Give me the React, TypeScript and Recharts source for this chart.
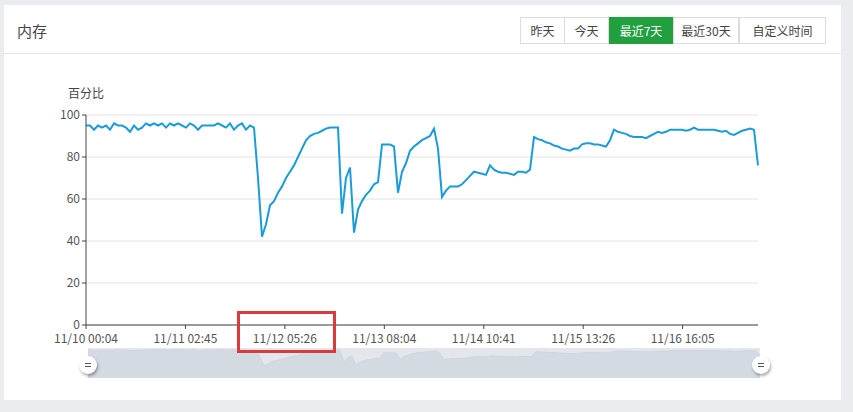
import React from 'react';
import { LineChart, Line, XAxis, YAxis, CartesianGrid, AreaChart, Area } from 'recharts';

// Memory usage (%) sampled evenly from 11/10 00:04 onward
const memoryPercent: number[] = [
  95, 95, 93, 95, 94, 95, 93, 96, 95, 95,
  94, 92, 95, 93, 94, 96, 95, 96, 95, 96,
  94, 96, 95, 96, 95, 94, 96, 95, 93, 95,
  95, 95, 95, 96, 95, 94, 96, 93, 95, 96,
  93, 95, 94, 70, 42, 48, 57, 59, 63, 66,
  70, 73, 76, 80, 84, 88, 90, 91, 91.5, 92.5,
  93.5, 94, 94, 94, 53, 70, 75, 44, 55, 59,
  62, 64, 67, 68, 86, 86, 86, 85, 63, 73,
  77, 83, 85, 86.5, 88, 89, 90, 93.5, 84, 61,
  64, 66, 66, 66, 67, 69, 71, 73, 72.5, 72,
  71.5, 76, 74, 73, 72.5, 72.5, 72, 71.5, 73, 73,
  72.5, 74, 89.5, 88.5, 88, 87, 86.5, 85.5, 85, 84,
  83.5, 83, 84, 84, 86, 86.5, 86.5, 86, 86, 85.5,
  85, 88, 93, 92, 91.5, 91, 90, 89.5, 89.5, 89.5,
  89, 90, 91, 92, 91.5, 92, 93, 93, 93, 93,
  92.5, 93, 94, 93, 93, 93, 93, 93, 92.5, 92,
  92.5, 91, 90.5, 91.5, 92.5, 93, 93.5, 93, 76,
];

const xTickLabels: string[] = [
  '11/10 00:04',
  '11/11 02:45',
  '11/12 05:26',
  '11/13 08:04',
  '11/14 10:41',
  '11/15 13:26',
  '11/16 16:05',
];

const yTicks: number[] = [0, 20, 40, 60, 80, 100];

const rangeButtons: string[] = ['昨天', '今天', '最近7天', '最近30天', '自定义时间'];
const activeButton = '最近7天';
const panelTitle = '内存';
const yAxisTitle = '百分比';

// samples between labelled x ticks
const TICK_STEP = 24.86;

const chartData = memoryPercent.map((v, i) => ({ i, v }));
const xTicks = xTickLabels.map((_, k) => k * TICK_STEP);

const buttonWidths = [45, 45, 64, 66, 87];

const FONT = "'Microsoft YaHei', 'Noto Sans CJK SC', sans-serif";

function Handle({ left }: { left: number }) {
  return (
    <div
      style={{
        position: 'absolute',
        left: left - 9,
        top: 356,
        width: 18,
        height: 18,
        borderRadius: 9,
        background: '#fff',
        boxShadow: '1px 2px 3px rgba(0,0,0,0.35)',
      }}
    >
      <div style={{ position: 'absolute', left: 6, top: 7, width: 6, height: 1, background: '#555' }} />
      <div style={{ position: 'absolute', left: 6, top: 10, width: 6, height: 1, background: '#555' }} />
    </div>
  );
}

export default function App() {
  let bx = 520;
  return (
    <div
      style={{
        position: 'absolute',
        left: 0,
        top: 0,
        width: 853,
        height: 412,
        background: '#eaecef',
        fontFamily: FONT,
        overflow: 'hidden',
      }}
    >
      {/* panel */}
      <div
        style={{
          position: 'absolute',
          left: 4,
          top: 5,
          width: 837,
          height: 395,
          background: '#fff',
        }}
      />
      <div
        style={{
          position: 'absolute',
          left: 4,
          top: 53,
          width: 837,
          height: 1,
          background: '#e4e4e4',
        }}
      />
      <div
        style={{
          position: 'absolute',
          left: 17,
          top: 21,
          fontSize: 15,
          color: '#444',
          lineHeight: '20px',
        }}
      >
        {panelTitle}
      </div>
      {rangeButtons.map((b, k) => {
        const w = buttonWidths[k];
        const left = bx;
        bx += w;
        const active = b === activeButton;
        return (
          <div
            key={b}
            style={{
              position: 'absolute',
              left,
              top: 17,
              width: w,
              height: 27,
              boxSizing: 'border-box',
              border: active ? '1px solid #22a03f' : '1px solid #dcdcdc',
              marginLeft: k === 0 ? 0 : -1,
              background: active ? '#22a03f' : '#fff',
              color: active ? '#fff' : '#444',
              fontSize: 12,
              lineHeight: '25px',
              textAlign: 'center',
            }}
          >
            {b}
          </div>
        );
      })}

      <div
        style={{
          position: 'absolute',
          left: 68,
          top: 84,
          fontSize: 12,
          color: '#444',
          lineHeight: '18px',
        }}
      >
        {yAxisTitle}
      </div>

      <div style={{ position: 'absolute', left: 0, top: 0 }}>
        <LineChart
          width={853}
          height={412}
          data={chartData}
          margin={{ top: 115, right: 95, bottom: 57, left: 46 }}
        >
          <CartesianGrid vertical={false} stroke="#e2e2e2" />
          <XAxis
            dataKey="i"
            type="number"
            domain={[0, memoryPercent.length - 1]}
            ticks={xTicks}
            interval={0}
            tickFormatter={(_v: number, idx: number) => xTickLabels[idx]}
            height={30}
            tickSize={4}
            tickMargin={5}
            axisLine={{ stroke: '#444' }}
            tickLine={{ stroke: '#444' }}
            tick={{ fill: '#555', fontSize: 12 }}
          />
          <YAxis
            type="number"
            domain={[0, 100]}
            ticks={yTicks}
            width={40}
            tickSize={4}
            tickMargin={2}
            axisLine={{ stroke: '#444' }}
            tickLine={{ stroke: '#444' }}
            tick={{ fill: '#555', fontSize: 12 }}
          />
          <Line
            type="linear"
            dataKey="v"
            stroke="#1b9bd8"
            strokeWidth={2}
            dot={false}
            isAnimationActive={false}
          />
        </LineChart>
      </div>

      {/* data zoom slider */}
      <div
        style={{
          position: 'absolute',
          left: 88,
          top: 348,
          width: 672,
          height: 30,
          background: '#e3e7ec',
        }}
      >
        <AreaChart width={672} height={30} data={chartData} margin={{ top: 0, right: 0, bottom: 0, left: 0 }}>
          <XAxis dataKey="i" type="number" domain={[0, memoryPercent.length - 1]} hide />
          <YAxis domain={[0, 102]} hide />
          <Area
            type="linear"
            dataKey="v"
            stroke="#cfd6df"
            strokeWidth={1}
            fill="#d3dae2"
            fillOpacity={1}
            isAnimationActive={false}
          />
        </AreaChart>
      </div>
      <Handle left={88} />
      <Handle left={761} />

      {/* highlight box */}
      <div
        style={{
          position: 'absolute',
          left: 237,
          top: 311,
          width: 99,
          height: 42,
          boxSizing: 'border-box',
          border: '3px solid #d93a3c',
        }}
      />
    </div>
  );
}
